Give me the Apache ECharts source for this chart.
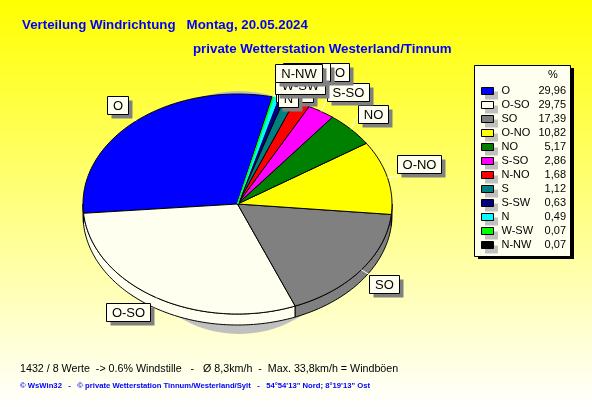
<!DOCTYPE html>
<html>
<head>
<meta charset="utf-8">
<style>html,body{margin:0;padding:0;background:#fff}#c{width:592px;height:407px}</style>
<script src="https://cdn.jsdelivr.net/npm/echarts@6/dist/echarts.min.js"></script>
</head>
<body>
<div id="c"></div>
<script>
var categories = ['O','O-SO','SO','O-NO','NO','S-SO','N-NO','S','S-SW','N','W-SW','N-NW'];
var values = [29.96,29.75,17.39,10.82,5.17,2.86,1.68,1.12,0.63,0.49,0.07,0.07];
var sliceLabels = ['O','O-SO','SO','O-NO','NO','S-SO','N-NO','O','S-SW','N','W-SW','N-NW'];
var colors = ['#0000ff','#fffff0','#808080','#ffff00','#008000','#ff00ff','#ff0000','#008080','#000080','#00ffff','#00ff00','#000000'];
var title1 = 'Verteilung Windrichtung   Montag, 20.05.2024';
var title2 = 'private Wetterstation Westerland/Tinnum';
var infoLine = '1432 / 8 Werte  -> 0.6% Windstille   -   \u00d8 8,3km/h  -  Max. 33,8km/h = Windb\u00f6en';
var footLine = '\u00a9 WsWin32   -   \u00a9 private Wetterstation Tinnum/Westerland/Sylt   -   54\u00b054\'13" Nord; 8\u00b019\'13" Ost';

// label box layout [x, y, w, h, anchorX, anchorY]
var boxLayout = [
  [107.5,96.5,21,18,128,115],[106.5,303.5,44,18,150,304],[369.5,275.5,30,18,370,275],
  [397.5,155.5,44,18,398,176],[358.5,105.5,30,18,359,113],[327.5,83.5,42,18,330,92],
  [276.5,84.5,37,18,300,95],[330.5,63.5,19,18,335,80],[283.5,63.5,47,18,300,80],
  [278.5,89.5,20,18,285,100],[275.5,76.5,50,18,280,90],[275.5,64.5,47,18,285,80]
];
var START = 77, DEPTH = 11, FONT = 'Liberation Sans, Arial, sans-serif';

var total = values.reduce(function (a, b) { return a + b; }, 0);
var angles = [], acc = START;
values.forEach(function (v) { var a = v / total * 360; angles.push([acc, acc + a]); acc += a; });
function pt(api, deg, dy) {
  var r = deg * Math.PI / 180;
  var p = api.coord([Math.cos(r), Math.sin(r)]);
  return [p[0], p[1] + (dy || 0)];
}
function renderSlice(params, api) {
  var i = params.dataIndex, a = angles[i], kids = [];
  var w0 = Math.max(a[0], 180), w1 = Math.min(a[1], 360), d;
  if (w1 > w0) {
    var wall = [];
    for (d = w0; d < w1; d += 1) wall.push(pt(api, d));
    wall.push(pt(api, w1));
    wall.push(pt(api, w1, DEPTH));
    for (d = w1; d > w0; d -= 1) wall.push(pt(api, d, DEPTH));
    wall.push(pt(api, w0, DEPTH));
    kids.push({ type: 'polygon', z2: 1, shape: { points: wall }, style: { fill: colors[i], stroke: '#000', lineWidth: 1 } });
  }
  var top = [api.coord([0, 0])];
  for (d = a[0]; d < a[1]; d += 1) top.push(pt(api, d));
  top.push(pt(api, a[1]));
  // hairline slices keep their own colour as outline so they stay visible;
  // the W-SW sliver is stacked above its neighbours
  var thin = values[i] < 0.5, last = i === values.length - 1;
  var level = thin && !last ? 5 + i : 5;
  kids.push({ type: 'polygon', z2: level, shape: { points: top },
    style: { fill: colors[i], stroke: (thin && !last) ? colors[i] : '#000', lineWidth: 1 } });
  return { type: 'group', children: kids };
}
function renderLabel(params, api) {
  var i = params.dataIndex, b = boxLayout[i], a = angles[i];
  var p = pt(api, (a[0] + a[1]) / 2), base = 30 + i * 5;
  return { type: 'group', children: [
    { type: 'line', z2: 20, shape: { x1: p[0], y1: p[1], x2: b[4], y2: b[5] }, style: { stroke: '#fffff0', lineWidth: 1 } },
    { type: 'rect', z2: base, shape: { x: b[0] + 4, y: b[1] + 4, width: b[2], height: b[3] }, style: { fill: '#808080' } },
    { type: 'rect', z2: base + 1, shape: { x: b[0], y: b[1], width: b[2], height: b[3] }, style: { fill: '#fffff0', stroke: '#000', lineWidth: 1 } },
    { type: 'text', z2: base + 2, style: { text: sliceLabels[i], x: b[0] + b[2] / 2, y: b[1] + b[3] / 2 + 0.5, align: 'center', verticalAlign: 'middle', font: '13px ' + FONT, fill: '#000' } }
  ] };
}

var gfx = [
  { type: 'ellipse', z: 0, silent: true, shape: { cx: 239, cy: 212.5, rx: 118, ry: 121.5 }, style: { fill: '#c0c0c0' } },
  { type: 'text', z: 5, style: { text: title1, x: 22, y: 25, verticalAlign: 'middle', font: 'bold 13.3px ' + FONT, fill: '#0000ff' } },
  { type: 'text', z: 5, style: { text: title2, x: 193, y: 49, verticalAlign: 'middle', font: 'bold 13.3px ' + FONT, fill: '#0000ff' } },
  { type: 'text', z: 5, style: { text: infoLine, x: 20, y: 369, verticalAlign: 'middle', font: '10.7px ' + FONT, fill: '#000' } },
  { type: 'text', z: 5, style: { text: footLine, x: 20, y: 386, verticalAlign: 'middle', font: 'bold 7.7px ' + FONT, fill: '#0000ff' } },
  { type: 'rect', z: 5, shape: { x: 478, y: 68, width: 96, height: 191 }, style: { fill: '#000' } },
  { type: 'rect', z: 5, shape: { x: 474.5, y: 65.5, width: 96, height: 191 }, style: { fill: '#fffff0', stroke: '#000', lineWidth: 1 } },
  { type: 'text', z: 6, style: { text: '%', x: 553, y: 75, align: 'center', verticalAlign: 'middle', font: '11px ' + FONT, fill: '#000' } }
];
categories.forEach(function (c, i) {
  var y = 91 + 14.03 * i, yy = Math.round(y - 4) + 0.5;
  gfx.push({ type: 'rect', z: 6, shape: { x: 485, y: yy + 4, width: 13, height: 8 }, style: { fill: '#c0c0c0' } });
  gfx.push({ type: 'rect', z: 7, shape: { x: 481.5, y: yy, width: 12, height: 7 }, style: { fill: colors[i], stroke: '#000', lineWidth: 1 } });
  gfx.push({ type: 'text', z: 8, style: { text: c, x: 501.5, y: y, verticalAlign: 'middle', font: '11px ' + FONT, fill: '#000' } });
  gfx.push({ type: 'text', z: 8, style: { text: values[i].toFixed(2).replace('.', ','), x: 566, y: y, align: 'right', verticalAlign: 'middle', font: '11px ' + FONT, fill: '#000' } });
});

var chart = echarts.init(document.getElementById('c'), null, { renderer: 'canvas' });
var rows = values.map(function (v) { return [0, 0, v]; });
chart.setOption({
  animation: false,
  backgroundColor: { type: 'linear', x: 0, y: 0, x2: 0, y2: 1, colorStops: [{ offset: 0, color: '#ffff00' }, { offset: 1, color: '#ffffff' }] },
  grid: { left: 83, top: 94, width: 309, height: 220 },
  xAxis: { type: 'value', min: -1, max: 1, show: false },
  yAxis: { type: 'value', min: -1, max: 1, show: false },
  graphic: gfx,
  series: [
    { type: 'custom', z: 2, silent: true, clip: false, renderItem: renderSlice, data: rows, encode: { x: 0, y: 1 } },
    { type: 'custom', z: 3, silent: true, clip: false, renderItem: renderLabel, data: rows, encode: { x: 0, y: 1 } }
  ]
});
</script>
</body>
</html>
